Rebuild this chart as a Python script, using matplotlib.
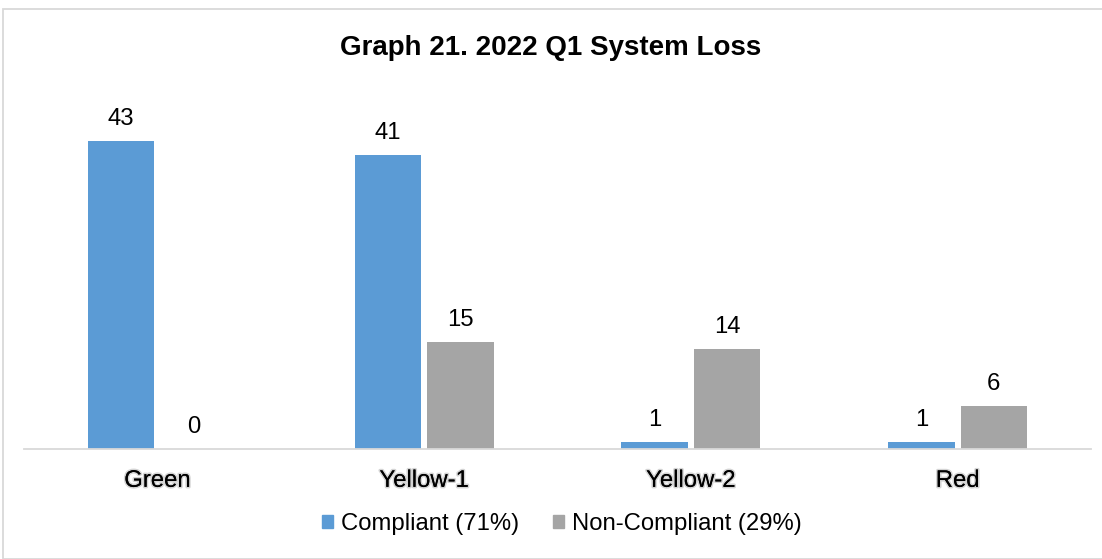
import matplotlib
matplotlib.use("Agg")
import matplotlib.pyplot as plt
import matplotlib.patheffects as pe
from matplotlib.patches import Rectangle, Patch
import numpy as np

categories = ["Green", "Yellow-1", "Yellow-2", "Red"]
compliant = [43, 41, 1, 1]
non_compliant = [0, 15, 14, 6]
series_names = ["Compliant (71%)", "Non-Compliant (29%)"]
title = "Graph 21. 2022 Q1 System Loss"

plt.rcParams['font.family'] = ['Liberation Sans', 'DejaVu Sans']

fig = plt.figure(figsize=(11.02, 5.59), dpi=100)
ax = fig.add_axes([24/1102, 110/559, 1067/1102, 358/559])

x = np.arange(len(categories))
w = 0.25
gap = 0.011
c1, c2 = "#5B9BD5", "#A5A5A5"
b1 = ax.bar(x - w/2 - gap, compliant, w, color=c1)
b2 = ax.bar(x + w/2 + gap, non_compliant, w, color=c2)

for bars, vals in ((b1, compliant), (b2, non_compliant)):
    for r, v in zip(bars, vals):
        ax.text(r.get_x() + r.get_width()/2, v + 1.55, str(v), ha='center', va='bottom',
                fontsize=17.2, color='#000000')

ax.set_xlim(-0.5, len(categories) - 0.5)
ax.set_ylim(0, 50)
ax.set_yticks([])
ax.set_xticks(x)
ax.set_xticklabels(categories, fontsize=17.2)
for t in ax.get_xticklabels():
    t.set_path_effects([pe.withStroke(linewidth=2.3, foreground='#d4d4d4'), pe.Normal()])
ax.tick_params(axis='x', length=0, pad=15)
for s in ['top', 'right', 'left']:
    ax.spines[s].set_visible(False)
ax.spines['bottom'].set_color('#d9d9d9')
ax.spines['bottom'].set_linewidth(1.3)

fig.text(0.5, 1 - 48/559, title, ha='center', va='center', fontsize=20, fontweight='bold')

handles = [Patch(color=c1), Patch(color=c2)]
fig.legend(handles, series_names, loc='center', bbox_to_anchor=(0.5 + 11/1102, 1 - 524/559), ncol=2,
           frameon=False, fontsize=17.2, handlelength=0.45, handleheight=0.45,
           handletextpad=0.35, columnspacing=1.4)

fig.patches.append(Rectangle((3/1102, 0), 1.2, 1 - 9/559, transform=fig.transFigure,
                             fill=False, edgecolor='#d9d9d9', linewidth=1.3))

fig.savefig("out.png", dpi=100)
